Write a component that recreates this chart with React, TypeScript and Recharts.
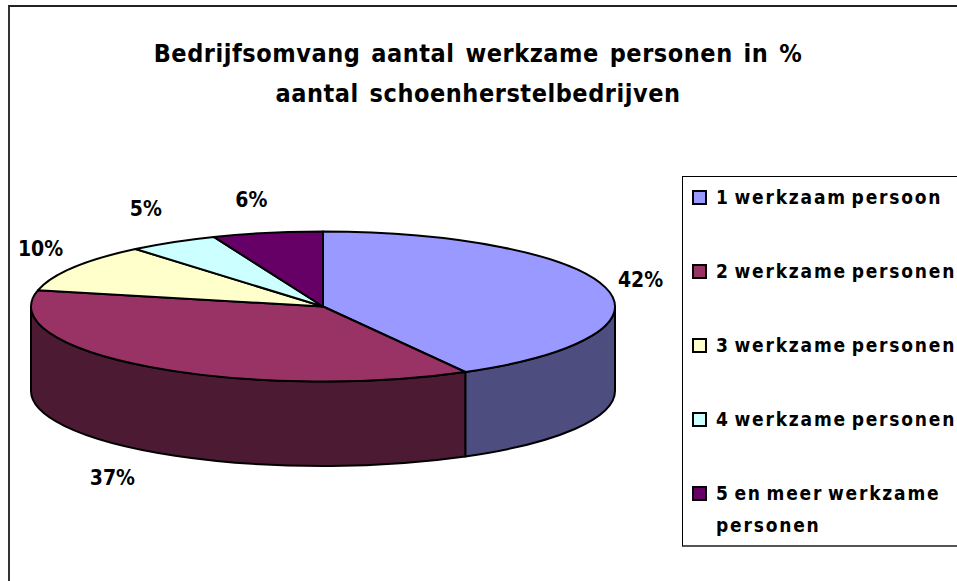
import { PieChart, Pie, Legend } from 'recharts'

const CATEGORIES = ['1 werkzaam persoon', '2 werkzame personen', '3 werkzame personen', '4 werkzame personen', '5 en meer werkzame personen']
const SHARES = [41.9, 36.6, 10.4, 5.0, 6.1]
const SHOWN_PERCENT = [42, 37, 10, 5, 6]
const TITLE_LINES = ['Bedrijfsomvang aantal werkzame personen in %', 'aantal schoenherstelbedrijven']

const TOP_COLORS = ['#9999ff', '#993366', '#ffffcc', '#ccffff', '#660066']
const WALL_COLORS = ['#4d4d80', '#4d1a33', '#808066', '#668080', '#330033']
// nudge from the rim point at the middle of each slice to where its label sits
const LABEL_NUDGE = [[35, -8], [-36, 111], [-33, -19], [-27, -33], [-16, -33]]

const FONT = '"DejaVu Sans Condensed", "DejaVu Sans", sans-serif'
const SQUASH = 75 / 292
const DEPTH = 84.5

const table = CATEGORIES.map((name, i) => ({
  name,
  value: SHARES[i],
  fill: TOP_COLORS[i],
  wall: WALL_COLORS[i],
}))

function rim(cx: number, cy: number, r: number, deg: number) {
  const a = (deg * Math.PI) / 180
  return [cx + r * Math.cos(a), cy - r * SQUASH * Math.sin(a)]
}

// one slice: side wall on the front half of the rim, then the squashed top
function Slice(props: any) {
  const { cx, cy, outerRadius: r, startAngle, endAngle, fill, payload } = props
  const ry = r * SQUASH
  const [x0, y0] = rim(cx, cy, r, startAngle)
  const [x1, y1] = rim(cx, cy, r, endAngle)
  const large = Math.abs(startAngle - endAngle) > 180 ? 1 : 0
  const top = `M${cx},${cy} L${x0},${y0} A${r},${ry} 0 ${large} 1 ${x1},${y1} Z`

  // recharts runs clockwise from 90 down to -270, the front half is 0 to -180
  const from = Math.min(startAngle, 0)
  const to = Math.max(endAngle, -180)
  let wall = ''
  if (from > to) {
    const [wx0, wy0] = rim(cx, cy, r, from)
    const [wx1, wy1] = rim(cx, cy, r, to)
    wall = `M${wx0},${wy0} A${r},${ry} 0 0 1 ${wx1},${wy1} L${wx1},${wy1 + DEPTH} A${r},${ry} 0 0 0 ${wx0},${wy0 + DEPTH} Z`
  }

  return (
    <g>
      {wall && <path d={wall} fill={payload.wall} stroke="#000" strokeWidth={2} strokeLinejoin="round" />}
      <path d={top} fill={fill} stroke="#000" strokeWidth={2} strokeLinejoin="round" />
    </g>
  )
}

function PercentLabel(props: any) {
  const { cx, cy, outerRadius: r, midAngle, index } = props
  const [x, y] = rim(cx, cy, r, midAngle)
  return (
    <text
      x={x + LABEL_NUDGE[index][0]}
      y={y + LABEL_NUDGE[index][1]}
      textAnchor="middle"
      dominantBaseline="central"
      fontFamily={FONT}
      fontWeight="bold"
      fontSize={21}
      fill="#000"
    >
      {SHOWN_PERCENT[index]}%
    </text>
  )
}

function LegendBox({ payload }: any) {
  return (
    <div
      style={{
        position: 'relative',
        boxSizing: 'border-box',
        width: 290,
        height: 371,
        background: '#fff',
        borderTop: '1px solid #000',
        borderLeft: '1px solid #000',
        borderBottom: '2px solid #555',
        fontFamily: FONT,
        fontWeight: 'bold',
        fontSize: 19,
        letterSpacing: 1.8,
        wordSpacing: -3,
        color: '#000',
      }}
    >
      {(payload ?? []).map((entry: any, i: number) => (
        <div
          key={entry.value}
          style={{ position: 'absolute', left: 9, top: 4 + i * 74, display: 'flex', alignItems: 'flex-start', width: 268, lineHeight: '32px' }}
        >
          <span
            style={{
              boxSizing: 'border-box',
              flex: 'none',
              width: 15,
              height: 15,
              marginTop: 9,
              marginRight: 9,
              background: TOP_COLORS[i],
              border: '2px solid #000',
            }}
          />
          <span>{entry.value}</span>
        </div>
      ))}
    </div>
  )
}

export default function App() {
  return (
    <div style={{ position: 'absolute', left: 0, top: 0, width: 957, height: 581, background: '#fff', overflow: 'hidden' }}>
      <div style={{ position: 'absolute', left: 8, top: 5, width: 960, height: 590, borderTop: '2px solid #222', borderLeft: '2px solid #333', boxSizing: 'border-box' }} />
      <PieChart width={957} height={581} style={{ position: 'absolute', left: 0, top: 0 }} margin={{ top: 0, right: 0, bottom: 0, left: 0 }}>
        <text x={478} y={53} textAnchor="middle" dominantBaseline="central" fontFamily={FONT} fontWeight="bold" fontSize={25} letterSpacing={0.55} wordSpacing={2.5}>
          {TITLE_LINES[0]}
        </text>
        <text x={478} y={93} textAnchor="middle" dominantBaseline="central" fontFamily={FONT} fontWeight="bold" fontSize={25} letterSpacing={0.55} wordSpacing={2.5}>
          {TITLE_LINES[1]}
        </text>
        <Pie
          data={table}
          dataKey="value"
          nameKey="name"
          cx={323}
          cy={306.5}
          outerRadius={292}
          startAngle={90}
          endAngle={-270}
          shape={Slice}
          label={PercentLabel}
          labelLine={false}
          isAnimationActive={false}
        />
        <Legend
          layout="vertical"
          align="right"
          verticalAlign="top"
          content={LegendBox}
          wrapperStyle={{ left: 682, right: 'auto', top: 176, width: 290 }}
        />
      </PieChart>
    </div>
  )
}
